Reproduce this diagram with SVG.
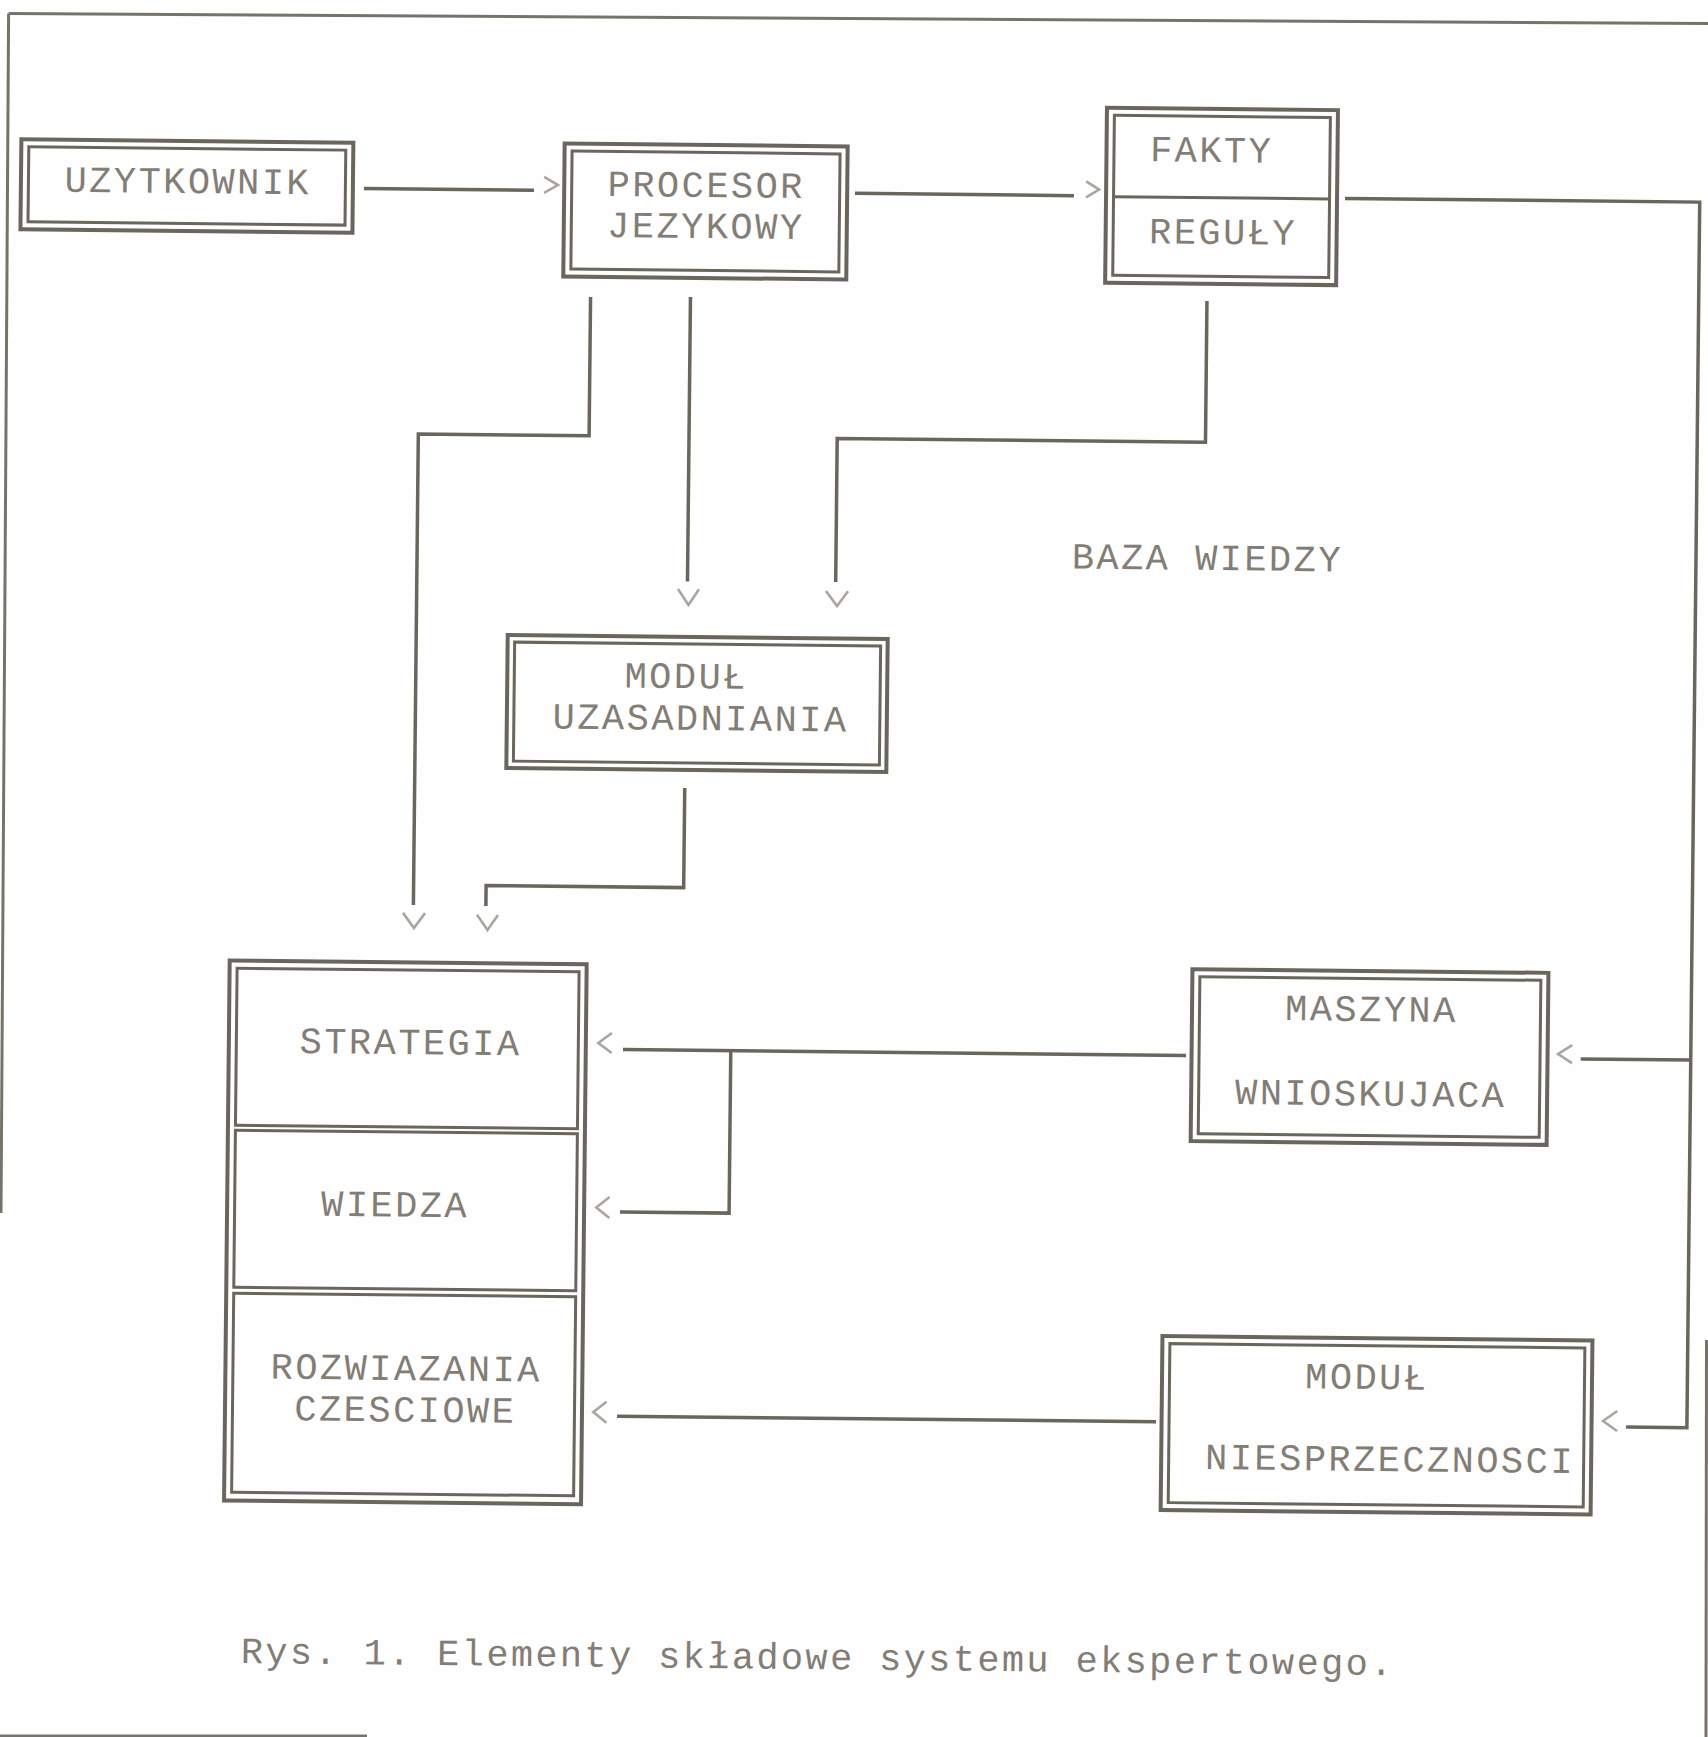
<svg xmlns="http://www.w3.org/2000/svg" width="1708" height="1737" viewBox="0 0 1708 1737">
<style>
.o{fill:none;stroke:#6a665e;stroke-width:4}
.i{fill:none;stroke:#6a665e;stroke-width:3}
.c{fill:none;stroke:#6a665e;stroke-width:3.5;stroke-linejoin:miter}
.ch{fill:none;stroke:#aaa59e;stroke-width:2.6;stroke-linejoin:miter}
.fr{fill:none;stroke:#77736b;stroke-width:3}
.t{font-family:"Liberation Mono",monospace;font-size:37px;letter-spacing:2.45px;fill:#837d75}
.cap{letter-spacing:2.35px}
</style>
<rect x="0" y="0" width="1708" height="1737" fill="#fefefe"/>
<g id="frame">
<path class="fr" d="M8.6,13.5 L1708,23.5"/>
<path class="fr" d="M8.6,13.5 L1,1213" stroke="#8e8a83"/>
<path class="fr" d="M1706.5,1340 L1706,1737" stroke="#a09c95"/>
<path class="fr" d="M0,1736 L367,1736"/>
</g>
<g id="diagram" transform="rotate(0.6 854 868)">
<g id="connectors">
<path class="c" d="M356.9,193.7 H526.9"/>
<path class="c" d="M847.9,193.4 H1066.9"/>
<path class="c" d="M1338,193.3 H1692.7 V1419 H1631.9"/>
<path class="c" d="M1692.7,1051.3 H1582.7"/>
<path class="c" d="M1201,297.3 V438.6 H832.7 V582.2"/>
<path class="c" d="M684.5,298.7 V583.2"/>
<path class="c" d="M584.6,299.7 V438.6 H413.8 V909.6"/>
<path class="c" d="M683.9,789.8 V889.4 H486.3 V909.9"/>
<path class="c" d="M624.9,1052 H1188"/>
<path class="c" d="M732.7,1052 V1214.4 H623.6"/>
<path class="c" d="M622.8,1418.6 H1161.8"/>
<path class="ch" d="M537,180.2 L550.8,188.2 L537,196.2"/>
<path class="ch" d="M1079,179 L1092,187 L1079,195"/>
<path class="ch" d="M823.1,591.3 L834.3,606.2 L845.1,591.3"/>
<path class="ch" d="M675.1,590.8 L685.7,606.7 L696.1,590.8"/>
<path class="ch" d="M403.5,917.6 L414.6,932.6 L425.5,917.6"/>
<path class="ch" d="M477.5,918.8 L488.2,933.9 L498.5,918.8"/>
<path class="ch" d="M613.6,1035.5 L600.2,1045.7 L613.6,1055.5"/>
<path class="ch" d="M613,1199.6 L599.9,1210.2 L613,1220.6"/>
<path class="ch" d="M612.2,1404.3 L599,1414.7 L612.2,1425.3"/>
<path class="ch" d="M1574,1037.6 L1560,1046.6 L1574,1055.6"/>
<path class="ch" d="M1622.9,1403 L1608.8,1413.1 L1622.9,1423"/>
</g>
<g id="uzytkownik">
<rect class="o" x="13.8" y="148" width="332" height="90"/>
<rect class="i" x="21.3" y="155.5" width="317" height="75"/>
<text class="t" x="57.4" y="200">UZYTKOWNIK</text>
</g>
<g id="procesor">
<rect class="o" x="557.1" y="146.6" width="283" height="133"/>
<rect class="i" x="564.6" y="154.1" width="268" height="118"/>
<text class="t" x="600.5" y="198.5">PROCESOR</text>
<text class="t" x="600.5" y="239.6">JEZYKOWY</text>
</g>
<g id="fakty-reguly">
<rect class="o" x="1099" y="105.1" width="231" height="175"/>
<rect class="i" x="1106.5" y="112.6" width="216" height="160"/>
<path class="i" d="M1106.5,194 H1322.5"/>
<text class="t" x="1142.5" y="158.3">FAKTY</text>
<text class="t" x="1142.5" y="240.1">REGUŁY</text>
</g>
<g id="baza-wiedzy">
<text class="t" x="1068.5" y="566.3">BAZA WIEDZY</text>
</g>
<g id="modul-uzasadniania">
<rect class="o" x="505.3" y="638.7" width="380" height="133"/>
<rect class="i" x="512.3" y="645.7" width="366" height="119"/>
<text class="t" x="622.6" y="689.8">MODUŁ</text>
<text class="t" x="551.1" y="731.6">UZASADNIANIA</text>
</g>
<g id="stos">
<rect class="o" x="230.7" y="967" width="357" height="540"/>
<g id="strategia">
<rect class="i" x="238.2" y="974.7" width="342" height="157"/>
<text class="t" x="301.5" y="1058.7">STRATEGIA</text>
</g>
<g id="wiedza">
<rect class="i" x="238.2" y="1136.7" width="342" height="157"/>
<text class="t" x="324.7" y="1221.3">WIEDZA</text>
</g>
<g id="rozwiazania">
<rect class="i" x="238.2" y="1299.7" width="342" height="199"/>
<text class="t" x="275.9" y="1384.7">ROZWIAZANIA</text>
<text class="t" x="300.1" y="1426.2">CZESCIOWE</text>
</g>
</g>
<g id="maszyna">
<rect class="o" x="1193.5" y="965.6" width="356" height="172"/>
<rect class="i" x="1201" y="973.1" width="341" height="157"/>
<text class="t" x="1286.6" y="1015.6">MASZYNA</text>
<text class="t" x="1237.5" y="1100.1">WNIOSKUJACA</text>
</g>
<g id="modul-niesprzecznosci">
<rect class="o" x="1167.35" y="1332.8" width="430" height="174"/>
<rect class="i" x="1174.85" y="1340.3" width="415" height="159"/>
<text class="t" x="1310.5" y="1383.6">MODUŁ</text>
<text class="t" x="1211.3" y="1465.4">NIESPRZECZNOSCI</text>
</g>
<g id="caption">
<text class="t cap" x="249" y="1669.4">Rys. 1. Elementy składowe systemu ekspertowego.</text>
</g>
</g>
</svg>
